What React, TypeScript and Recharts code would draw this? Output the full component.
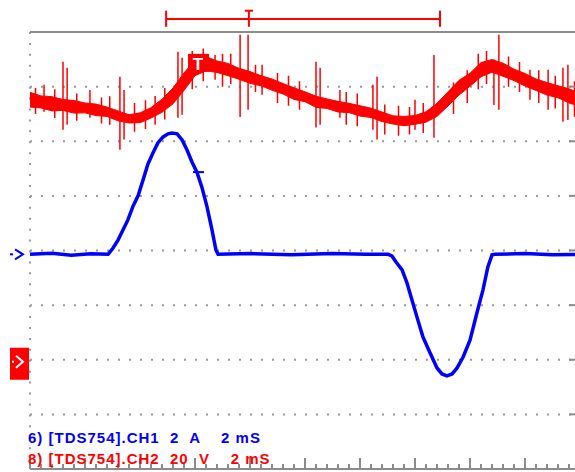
import {
  Area,
  CartesianGrid,
  ComposedChart,
  Line,
  ReferenceDot,
  ReferenceLine,
  XAxis,
  YAxis,
} from 'recharts'

const RED = '#ff0000'
const BLUE = '#0000ff'
const AXIS = '#8c8c8c'
const DOTS = '#9a9a9a'

// CH1 current (ms, A) - 2 A/div, 2 ms/div
const blueTime = [
  0, 0.8, 1.5, 2.2, 2.84, 3.02, 3.2, 3.38, 3.56, 3.75, 3.93, 4.11, 4.29, 4.47, 4.65, 4.84, 5.02, 5.16,
  5.35, 5.53, 5.71, 5.89, 6.07, 6.25, 6.44, 6.62, 6.76, 6.84, 8, 9.5, 11, 12.2, 13.02, 13.16, 13.31,
  13.53, 13.71, 13.89, 14.07, 14.29, 14.55, 14.8, 14.98, 15.16, 15.35, 15.53, 15.75, 16, 16.25, 16.47,
  16.65, 16.8, 16.91, 18, 19, 20,
]
const blueAmps = [
  0, 0.04, -0.03, 0.02, 0, 0.23, 0.52, 0.89, 1.26, 1.77, 2.14, 2.72, 3.31, 3.71, 4.08, 4.3, 4.41, 4.44,
  4.41, 4.19, 3.82, 3.38, 3.01, 2.46, 1.73, 0.89, 0.16, 0, 0.03, -0.02, 0.03, 0, 0, -0.06, -0.28,
  -0.57, -1.05, -1.67, -2.29, -3.03, -3.61, -4.16, -4.38, -4.45, -4.38, -4.16, -3.76, -3.14, -2.15, -1.31,
  -0.46, -0.02, 0, 0.03, -0.02, 0,
]

// CH2 voltage (V) noise band, one sample per 0.4 ms - 20 V/div
const redTime = [
  0, 0.4, 0.8, 1.2, 1.6, 2, 2.4, 2.8, 3.2, 3.6, 4, 4.4, 4.8, 5.2, 5.6, 6, 6.4, 6.8, 7.2, 7.6, 8, 8.4,
  8.8, 9.2, 9.6, 10, 10.4, 10.8, 11.2, 11.6, 12, 12.4, 12.8, 13.2, 13.6, 14, 14.4, 14.8, 15.2, 15.6, 16,
  16.4, 16.8, 17.2, 17.6, 18, 18.4, 18.8, 19.2, 19.6, 20,
]
const redHigh = [
  97.9, 96.6, 96.3, 95.3, 94.9, 94, 93.6, 92.5, 91.1, 89.7, 90.4, 92.3, 95.4, 99.5, 105, 109.8, 111,
  109.4, 108.5, 106.7, 105.5, 104, 102.8, 101.1, 99.6, 98.1, 96.5, 95.5, 94.6, 93.9, 93, 92.1, 90.7,
  89.3, 89.1, 89.4, 90.8, 93.9, 98.1, 102.3, 104.9, 108.8, 109.9, 108.6, 106.4, 104.8, 102.8, 101.5,
  100.3, 99.2, 97.6,
]
const redLow = [
  92.5, 92.2, 91.1, 91.3, 90.3, 90.4, 89.4, 89.1, 87.5, 86.7, 86.8, 88.5, 90.6, 93.7, 98.6, 104, 105.8,
  105.2, 104, 102.7, 101.2, 100.3, 98.7, 97.3, 95.3, 94.5, 92.4, 92, 90.7, 90.5, 89.2, 88.7, 87.2, 86.3,
  85.7, 86.2, 87, 89.1, 92.9, 96.9, 100.1, 103.6, 105.3, 103.8, 102.2, 100.2, 98.6, 96.9, 95.9, 94,
  92.8,
]

// CH2 glitches (ms, top V, bottom V)
const spikeTime = [
  0.2, 0.51, 0.9, 1.2, 1.35, 1.7, 2.18, 2.6, 2.9, 3.27, 3.42, 3.8, 4.2, 4.55, 4.9, 5.38, 5.53, 5.9, 6.3,
  6.73, 7.0, 7.3, 7.64, 7.93, 8.2, 8.44, 9.0, 9.4, 9.8, 10.4, 10.55, 11.27, 11.5, 11.9, 12.47, 12.62,
  12.9, 13.4, 13.8, 14.0, 14.3, 14.69, 15.4, 15.9, 16.3, 16.6, 16.87, 17.05, 17.4, 17.8, 18.18, 18.5,
  18.84, 19.1, 19.38, 19.56, 19.8,
]
const spikeTop = [
  99.5, 100.7, 99, 109.1, 106.9, 97.5, 98.8, 96, 96.5, 103.6, 98.8, 94, 95, 96.6, 99.5, 112.8, 110.6,
  113, 114, 111.6, 112, 112, 119, 119, 108, 108, 105, 104, 102, 109.1, 106.9, 98.8, 98, 97.5, 100.7,
  103.6, 93.5, 93, 92.5, 95.2, 94, 111.6, 101.5, 106, 112, 113, 109.9, 119, 111, 109, 106.2, 106,
  106.2, 104, 106.9, 108, 102,
]
const spikeBottom = [
  90, 90.8, 88.5, 84.2, 86, 87.5, 88.6, 86.5, 86, 76.9, 80.6, 83.5, 84.5, 86, 88, 88.6, 89.7, 99, 102,
  102.5, 100, 101, 88.9, 91.5, 98, 97, 94, 93, 91.5, 85, 86, 88.6, 86, 85.5, 84.2, 80.6, 82.5, 82,
  82.5, 84.2, 83, 81.3, 90, 94, 99, 101, 93.3, 91.5, 100, 98, 95.2, 94, 91.5, 92, 87.1, 87.8, 89,
]

// trigger markers
const triggerTime = 6.11
const triggerVolts = 108.7
const triggerAmps = 3.01
const windowStart = 4.95
const windowEnd = 14.91
const windowTrigger = 7.96

const minorX = Array.from({ length: 51 }, (_, i) => Number((i * 0.4).toFixed(1)))
const majorX = Array.from({ length: 11 }, (_, i) => i * 2)
const minorY = Array.from({ length: 41 }, (_, i) => -40 + i * 4)
const majorY = Array.from({ length: 9 }, (_, i) => -40 + i * 20)

const blueData = blueTime.map((t, i) => ({ t, amps: blueAmps[i] }))
const redData = redTime.map((t, i) => ({ t, range: [redLow[i], redHigh[i]] }))
const spikeData = spikeTime.flatMap((t, i) => [
  { t, v: spikeTop[i] },
  { t, v: spikeBottom[i] },
  { t, v: null },
])

const isMajor = (v: number, step: number) => Math.abs(v / step - Math.round(v / step)) < 1e-6

const TopTick = (p: any) => (
  <line x1={p.x} y1={p.y} x2={p.x} y2={p.y + (isMajor(p.payload.value, 2) ? 11 : 5)} stroke={AXIS} strokeWidth={2} />
)
const BottomTick = (p: any) => (
  <line x1={p.x} y1={p.y} x2={p.x} y2={p.y - (isMajor(p.payload.value, 2) ? 11 : 5)} stroke={AXIS} strokeWidth={2} />
)
const LeftTick = (p: any) => (
  <line x1={p.x} y1={p.y} x2={p.x + (isMajor(p.payload.value, 20) ? 11 : 5)} y2={p.y} stroke={AXIS} strokeWidth={2} />
)
const RightTick = (p: any) => (
  <line x1={p.x} y1={p.y} x2={p.x - (isMajor(p.payload.value, 20) ? 11 : 5)} y2={p.y} stroke={AXIS} strokeWidth={2} />
)

const BlueGround = ({ cx, cy }: any) => (
  <g stroke={BLUE} strokeWidth={2} fill="none">
    <line x1={cx - 20} y1={cy} x2={cx - 17} y2={cy} />
    <polyline points={`${cx - 15},${cy - 5} ${cx - 7},${cy} ${cx - 15},${cy + 5}`} />
  </g>
)

const RedGround = ({ cx, cy }: any) => (
  <g>
    <rect x={cx - 20} y={cy - 12} width={19} height={32} fill={RED} />
    <g stroke="#fff" strokeWidth={2} fill="none">
      <line x1={cx - 18} y1={cy + 2} x2={cx - 16} y2={cy + 2} />
      <polyline points={`${cx - 14},${cy - 4} ${cx - 7},${cy + 2} ${cx - 14},${cy + 8}`} />
    </g>
  </g>
)

const RedTrigger = ({ cx, cy }: any) => (
  <g>
    <rect x={cx - 10} y={cy - 9} width={21} height={18} fill={RED} />
    <text x={cx} y={cy + 7} fill="#fff" fontFamily="Liberation Sans, Arial" fontWeight="bold" fontSize={17} textAnchor="middle">
      T
    </text>
  </g>
)

const BlueTrigger = ({ cx, cy }: any) => (
  <line x1={cx - 5} y1={cy} x2={cx + 6} y2={cy} stroke={BLUE} strokeWidth={2} />
)

const legendText = (color: string, top: number) => ({
  position: 'absolute' as const,
  left: 28,
  top,
  color,
  fontFamily: '"Liberation Sans", Arial, sans-serif',
  fontWeight: 700,
  fontSize: 15,
  lineHeight: '15px',
  letterSpacing: 1,
  whiteSpace: 'pre' as const,
})

const axisLine = { stroke: AXIS, strokeWidth: 2 }

export default function App() {
  return (
    <div
      style={{
        position: 'absolute',
        left: 0,
        top: 0,
        width: 575,
        height: 472,
        overflow: 'hidden',
        background: '#fff',
      }}
    >
      <ComposedChart width={581} height={472} margin={{ top: 31, right: 0, bottom: 2, left: 29 }}>
        <XAxis xAxisId="grid" type="number" domain={[0, 20]} ticks={majorX} hide allowDataOverflow />
        <YAxis yAxisId="grid" type="number" domain={[-40, 120]} ticks={majorY} hide allowDataOverflow />
        <CartesianGrid
          xAxisId="grid"
          yAxisId="grid"
          horizontal={false}
          stroke={DOTS}
          strokeWidth={2}
          strokeDasharray="2 8.925"
        />
        <CartesianGrid
          xAxisId="grid"
          yAxisId="grid"
          vertical={false}
          stroke={DOTS}
          strokeWidth={2}
          strokeDasharray="2 9"
        />

        <XAxis
          xAxisId={0}
          dataKey="t"
          type="number"
          domain={[0, 20]}
          allowDataOverflow
          orientation="bottom"
          height={1}
          ticks={minorX}
          interval={0}
          tickSize={0}
          tickMargin={0}
          tickLine={false}
          tick={BottomTick}
          axisLine={axisLine}
        />
        <XAxis
          xAxisId="top"
          type="number"
          domain={[0, 20]}
          allowDataOverflow
          orientation="top"
          height={1}
          ticks={minorX}
          interval={0}
          tickSize={0}
          tickMargin={0}
          tickLine={false}
          tick={TopTick}
          axisLine={axisLine}
        />
        <YAxis
          yAxisId="v"
          type="number"
          domain={[-40, 120]}
          allowDataOverflow
          orientation="left"
          width={1}
          ticks={minorY}
          interval={0}
          tickSize={0}
          tickMargin={0}
          tickLine={false}
          tick={LeftTick}
          axisLine={axisLine}
        />
        <YAxis
          yAxisId="vr"
          type="number"
          domain={[-40, 120]}
          allowDataOverflow
          orientation="right"
          width={1}
          ticks={minorY}
          interval={0}
          tickSize={0}
          tickMargin={0}
          tickLine={false}
          tick={RightTick}
          axisLine={axisLine}
        />
        <YAxis yAxisId="a" type="number" domain={[-7.86, 8.14]} allowDataOverflow hide />

        <Area
          data={redData}
          dataKey="range"
          yAxisId="v"
          type="linear"
          stroke={RED}
          strokeWidth={1}
          fill={RED}
          fillOpacity={1}
          dot={false}
          activeDot={false}
          isAnimationActive={false}
        />
        <Line
          data={spikeData}
          dataKey="v"
          yAxisId="v"
          type="linear"
          stroke={RED}
          strokeWidth={1.5}
          dot={false}
          activeDot={false}
          connectNulls={false}
          isAnimationActive={false}
        />
        <Line
          data={blueData}
          dataKey="amps"
          yAxisId="a"
          type="linear"
          stroke={BLUE}
          strokeWidth={3.5}
          dot={false}
          activeDot={false}
          isAnimationActive={false}
        />

        <ReferenceDot x={0} y={0} yAxisId="a" ifOverflow="visible" shape={BlueGround} />
        <ReferenceDot x={0} y={0} yAxisId="v" ifOverflow="visible" shape={RedGround} />
        <ReferenceDot x={triggerTime} y={triggerVolts} yAxisId="v" ifOverflow="visible" shape={RedTrigger} />
        <ReferenceDot x={triggerTime} y={triggerAmps} yAxisId="a" ifOverflow="visible" shape={BlueTrigger} />

        <ReferenceLine
          yAxisId="v"
          ifOverflow="visible"
          stroke={RED}
          strokeWidth={2}
          segment={[{ x: windowStart, y: 124.8 }, { x: windowEnd, y: 124.8 }]}
        />
        <ReferenceLine
          yAxisId="v"
          ifOverflow="visible"
          stroke={RED}
          strokeWidth={2}
          segment={[{ x: windowStart, y: 127.8 }, { x: windowStart, y: 121.9 }]}
        />
        <ReferenceLine
          yAxisId="v"
          ifOverflow="visible"
          stroke={RED}
          strokeWidth={2}
          segment={[{ x: windowEnd, y: 127.8 }, { x: windowEnd, y: 121.9 }]}
        />
        <ReferenceLine
          yAxisId="v"
          ifOverflow="visible"
          stroke={RED}
          strokeWidth={2}
          segment={[{ x: windowTrigger, y: 127.8 }, { x: windowTrigger, y: 121.9 }]}
        />
        <ReferenceLine
          yAxisId="v"
          ifOverflow="visible"
          stroke={RED}
          strokeWidth={2}
          segment={[{ x: windowTrigger - 0.15, y: 127.8 }, { x: windowTrigger + 0.15, y: 127.8 }]}
        />
      </ComposedChart>
      <div style={legendText(BLUE, 430)}>6) [TDS754].CH1  2  A    2 mS</div>
      <div style={legendText(RED, 451)}>8) [TDS754].CH2  20  V    2 mS</div>
    </div>
  )
}
